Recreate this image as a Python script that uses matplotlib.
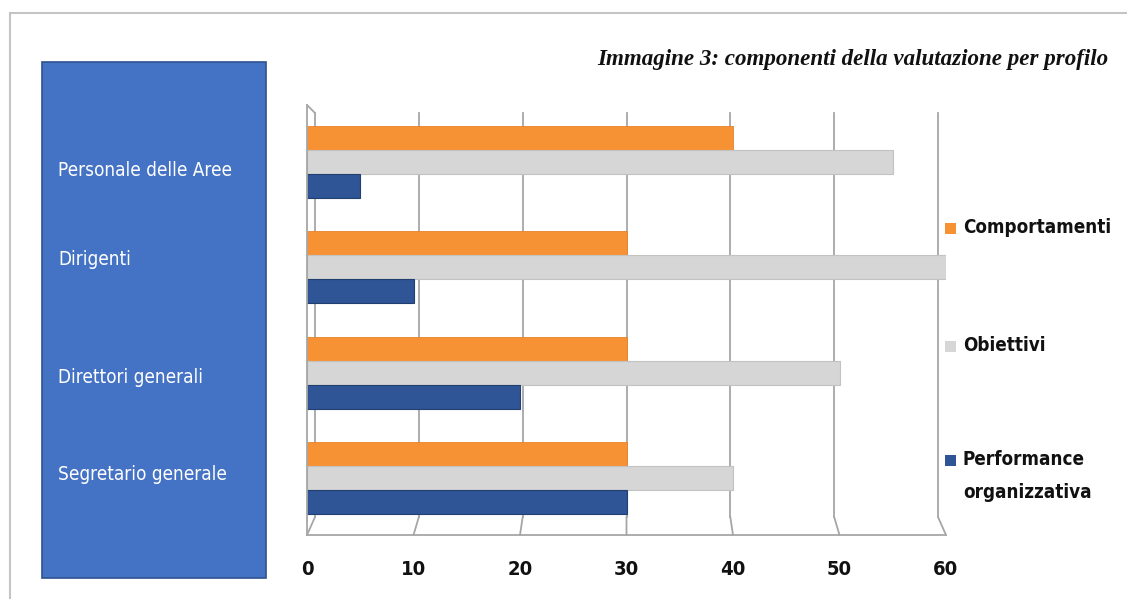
import matplotlib
matplotlib.use("Agg")
import matplotlib.pyplot as plt
from matplotlib.patches import Rectangle, ConnectionPatch
from matplotlib.lines import Line2D

# data, bottom to top as drawn on the category axis
profiles = ["Segretario generale", "Direttori generali", "Dirigenti", "Personale delle Aree"]
comportamenti = [30, 30, 30, 40]
obiettivi = [40, 50, 60, 55]
performance = [30, 20, 10, 5]
series_names = ["Comportamenti", "Obiettivi", "Performance\norganizzativa"]
x_ticks = [0, 10, 20, 30, 40, 50, 60]
title = "Immagine 3: componenti della valutazione per profilo"

ORANGE = "#F79234"
GRAY = "#D6D6D6"
BLUE = "#2F5597"
BOX = "#4472C4"
GRID = "#a6a6a6"

NARROW = dict(family=["DejaVu Sans"], stretch="condensed")

W, H = 1127, 599
fig = plt.figure(figsize=(W / 100, H / 100), dpi=100)


def fx(px):
    return px / W


def fy(py):
    return 1 - py / H


# outer frame (top and left edges only visible)
fig.add_artist(Line2D([fx(10), 1], [fy(13), fy(13)], transform=fig.transFigure,
                      color="#c4c4c4", lw=1.5))
fig.add_artist(Line2D([fx(10), fx(10)], [fy(13), 0], transform=fig.transFigure,
                      color="#c4c4c4", lw=1.5))

# blue box holding the category labels
fig.add_artist(Rectangle((fx(42), fy(578)), fx(266) - fx(42), fy(62) - fy(578),
                         transform=fig.transFigure, fc=BOX, ec="#2F528F", lw=1.2))
label_baselines = [480, 383, 265, 176]
for name, yb in zip(profiles, label_baselines):
    fig.text(fx(58), fy(yb), name, fontsize=13.6, color="white",
             ha="left", va="baseline", **NARROW)

# title
fig.text(fx(1108), fy(60), title, family=["Liberation Serif", "DejaVu Serif"],
         style="italic", weight="bold", fontsize=16.6, ha="right", va="center",
         color="#111111")

# back wall of the pseudo-3D chart
axw = fig.add_axes([fx(315), fy(517), fx(938) - fx(315), fy(113) - fy(517)])
axw.set_xlim(0, 60)
axw.set_ylim(0, 1)
axw.set_xticks(x_ticks)
axw.set_yticks([])
axw.grid(axis="x", color=GRID, lw=1.3)
for gl in axw.get_xgridlines():
    gl.set_clip_on(False)
axw.tick_params(axis="x", length=0, labelbottom=False)
for s in axw.spines.values():
    s.set_visible(False)

# front: bars
ax = fig.add_axes([fx(307), fy(535), fx(946) - fx(307), fy(105) - fy(535)])
ax.patch.set_alpha(0)
pos = list(range(len(profiles)))
h = 0.228
ax.barh([p + h for p in pos], comportamenti, height=h, color=ORANGE,
        edgecolor="#E5832A", lw=0.6)
ax.barh(pos, obiettivi, height=h, color=GRAY, edgecolor="#c2c2c2", lw=0.8)
ax.barh([p - h for p in pos], performance, height=h, color=BLUE,
        edgecolor="#22406f", lw=0.8)
ax.set_xlim(0, 60)
ax.set_ylim(-0.54, 3.54)
ax.set_xticks(x_ticks)
ax.set_xticklabels([str(v) for v in x_ticks], weight="bold",
                   fontsize=14.5, color="#111111", **NARROW)
ax.set_yticks([])
ax.tick_params(axis="x", length=0, pad=18)
ax.spines["top"].set_visible(False)
ax.spines["right"].set_visible(False)
for s in ("left", "bottom"):
    ax.spines[s].set_color(GRID)
    ax.spines[s].set_linewidth(1.3)

# floor edges joining back-wall gridlines to the front edge
for v in x_ticks:
    con = ConnectionPatch(xyA=(v, 0), coordsA=axw.get_xaxis_transform(),
                          xyB=(v, 0), coordsB=ax.get_xaxis_transform(),
                          color=GRID, lw=1.3)
    fig.add_artist(con)
fig.add_artist(ConnectionPatch(xyA=(0, 1), coordsA=axw.transAxes,
                               xyB=(0, 1), coordsB=ax.transAxes,
                               color=GRID, lw=1.3))

# legend, drawn by hand to keep the wide spacing of the original
legend_colors = [ORANGE, GRAY, BLUE]
legend_centers = [228, 346, 460]
for name, col, cy in zip(series_names, legend_colors, legend_centers):
    fig.add_artist(Rectangle((fx(945), fy(cy + 6)), fx(11), 11 / H,
                             transform=fig.transFigure, fc=col, ec="none"))
    fig.text(fx(963), fy(cy - 10), name, weight="bold",
             fontsize=13.5, color="#111111", ha="left", va="top", linespacing=1.95,
             **NARROW)

fig.savefig("out.png", dpi=100)
